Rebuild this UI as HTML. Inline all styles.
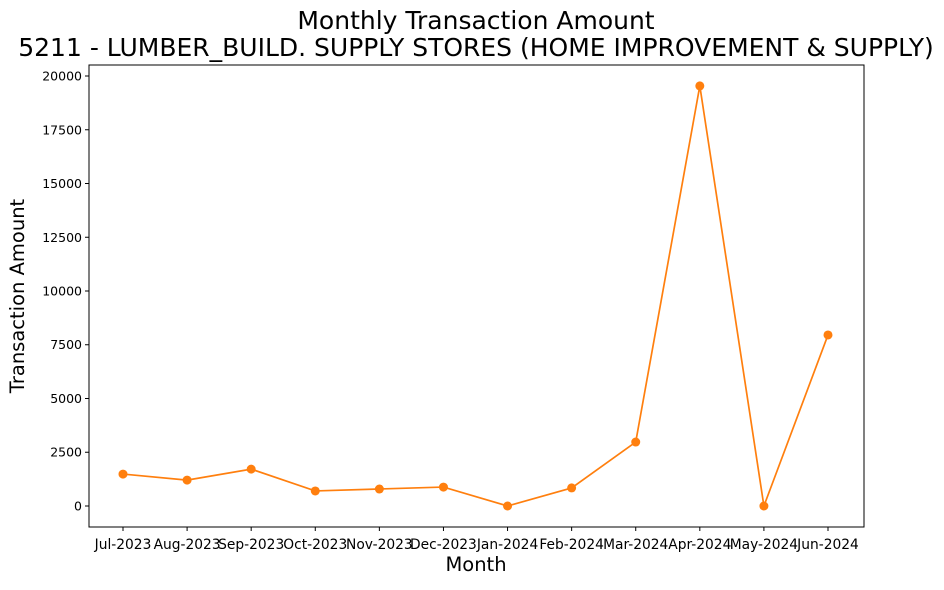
<!DOCTYPE html>
<html><head><meta charset="utf-8"><style>
body{margin:0;background:#fff;font-family:"Liberation Sans","DejaVu Sans",sans-serif;}
</style></head><body>
<svg id="chart" width="944" height="585" xmlns="http://www.w3.org/2000/svg" font-family="DejaVu Sans, Liberation Sans, sans-serif"></svg>
<script>
const months=["Jul-2023","Aug-2023","Sep-2023","Oct-2023","Nov-2023","Dec-2023","Jan-2024","Feb-2024","Mar-2024","Apr-2024","May-2024","Jun-2024"];
const amounts=[1485,1205,1715,700,790,880,0,840,2975,19540,0,7955];
const yTicks=[0,2500,5000,7500,10000,12500,15000,17500,20000];
const svg=document.getElementById('chart');
const NS="http://www.w3.org/2000/svg";
const L=89,R=864,T=65,B=527;
const yMin=-977,yMax=20512;
const x=i=>123+i*(828-123)/(months.length-1);
const y=v=>B-(v-yMin)/(yMax-yMin)*(B-T);
function mk(tag,attrs,name,text){const e=document.createElementNS(NS,tag);for(const k in attrs)e.setAttribute(k,attrs[k]);


if(text!==undefined)e.textContent=text;svg.appendChild(e);return e;}
mk('text',{x:476,y:29,'text-anchor':'middle','font-size':25},'chart-title','Monthly Transaction Amount');
mk('text',{x:476,y:56,'text-anchor':'middle','font-size':25},'chart-subtitle','5211 - LUMBER_BUILD. SUPPLY STORES (HOME IMPROVEMENT & SUPPLY)');
mk('rect',{x:L,y:T,width:R-L,height:B-T,fill:'none',stroke:'#000','stroke-width':1},'plot-area');
yTicks.forEach(v=>{const yy=y(v);
mk('line',{x1:L-4,x2:L,y1:yy,y2:yy,stroke:'#000'},'y-tick');
mk('text',{x:L-7,y:yy+4.5,'text-anchor':'end','font-size':12.5},'y-tick-label',String(v));});
months.forEach((m,i)=>{const xx=x(i);
mk('line',{x1:xx,x2:xx,y1:B,y2:B+4,stroke:'#000'},'x-tick');
mk('text',{x:xx,y:B+22,'text-anchor':'middle','font-size':13.8},'x-tick-label',m);});
mk('text',{x:476,y:571,'text-anchor':'middle','font-size':19.5},'x-axis-title','Month');
mk('text',{x:24,y:296,'text-anchor':'middle','font-size':19.5,transform:'rotate(-90 24 296)'},'y-axis-title','Transaction Amount');
mk('polyline',{points:amounts.map((v,i)=>x(i)+','+y(v)).join(' '),fill:'none',stroke:'#ff7f0e','stroke-width':1.7},'amount-line');
amounts.forEach((v,i)=>mk('circle',{cx:x(i),cy:y(v),r:4.5,fill:'#ff7f0e'},'amount-point'));
</script>
</body></html>
